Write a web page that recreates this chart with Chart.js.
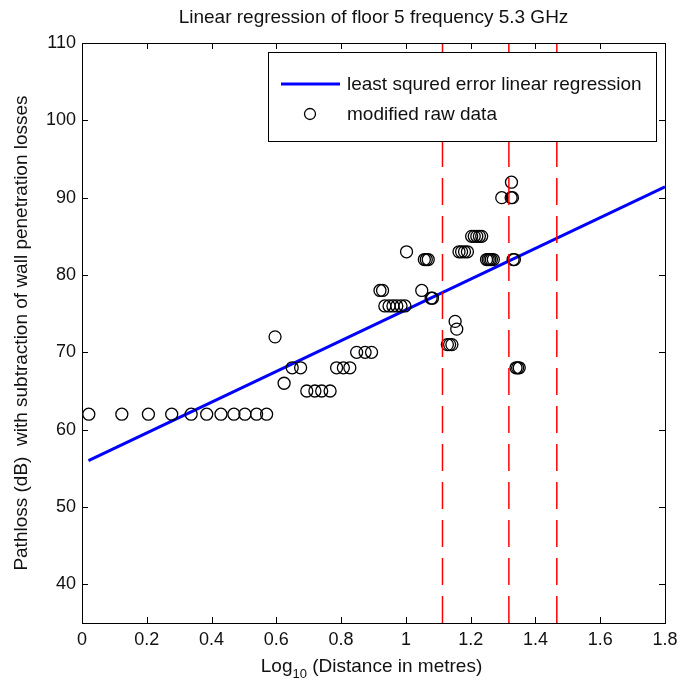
<!DOCTYPE html>
<html>
<head>
<meta charset="utf-8">
<title>Floor 5 pathloss, 5.3 GHz</title>
<script src="https://cdn.jsdelivr.net/npm/chart.js@4.4.0/dist/chart.umd.min.js"></script>
<style>
    html, body { margin: 0; padding: 0; background: #fff; }
    canvas { display: block; }
</style>
</head>
<body>
<canvas id="pathlossChart" width="681" height="685"></canvas>
<script>
// log10 of distance (m) and pathloss (dB) after removing wall penetration losses
var rawDist = [
    0.021, 0.123, 0.205, 0.277, 0.337, 0.385, 0.429, 0.469, 0.503, 0.539, 0.570,
    0.596, 0.624, 0.649, 0.675,
    0.694, 0.719, 0.740, 0.766,
    0.786, 0.807, 0.827,
    0.848, 0.874, 0.894,
    0.920, 0.928,
    0.935, 0.948, 0.960, 0.972, 0.985, 0.997,
    1.002, 1.049,
    1.057, 1.063, 1.069,
    1.078, 1.082,
    1.128, 1.135, 1.142,
    1.152, 1.157,
    1.164, 1.172, 1.181, 1.190,
    1.203, 1.211, 1.219, 1.227, 1.234,
    1.249, 1.254, 1.259, 1.264, 1.270,
    1.296, 1.325, 1.329, 1.326,
    1.331, 1.335,
    1.340, 1.345, 1.350
];
var rawLoss = [
    62, 62, 62, 62, 62, 62, 62, 62, 62, 62, 62,
    72, 66, 68, 68,
    65, 65, 65, 65,
    68, 68, 68,
    70, 70, 70,
    78, 78,
    76, 76, 76, 76, 76, 76,
    83, 78,
    82, 82, 82,
    77, 77,
    71, 71, 71,
    74, 73,
    83, 83, 83, 83,
    85, 85, 85, 85, 85,
    82, 82, 82, 82, 82,
    90, 90, 90, 92,
    82, 82,
    68, 68, 68
];

// least squares fit, end points
var fitDist = [0.02, 1.8];
var fitLoss = [56.0, 91.4];

// section boundaries along the corridor
var wallDist = [1.113, 1.318, 1.466];

var xTicks = [0, 0.2, 0.4, 0.6, 0.8, 1, 1.2, 1.4, 1.6, 1.8];
var yTicks = [40, 50, 60, 70, 80, 90, 100, 110];

var FONT = '"Liberation Sans", Arial, Helvetica, sans-serif';
var INK = '#111';

function pairs(xs, ys) {
    var out = [];
    for (var i = 0; i < xs.length; i++) {
        out.push({x: xs[i], y: ys[i]});
    }
    return out;
}

var datasets = [];

wallDist.forEach(function(d) {
    datasets.push({
        label: 'wall',
        data: [{x: d, y: 35}, {x: d, y: 110}],
        showLine: true,
        borderColor: '#ff0000',
        borderWidth: 1.5,
        borderDash: [27, 11],
        pointRadius: 0,
        order: 1
    });
});

datasets.push({
    label: 'least squred error linear regression',
    data: pairs(fitDist, fitLoss),
    showLine: true,
    borderColor: '#0000ff',
    borderWidth: 3,
    pointRadius: 0,
    order: 3
});

datasets.push({
    label: 'modified raw data',
    data: pairs(rawDist, rawLoss),
    showLine: false,
    pointStyle: 'circle',
    pointRadius: 6,
    pointBorderWidth: 1.3,
    pointBorderColor: '#000',
    pointBackgroundColor: 'rgba(0,0,0,0)',
    order: 2
});

// MATLAB style box, inward ticks, legend and the subscripted x label
var axesBox = {
    id: 'axesBox',
    afterDraw: function(chart) {
        var ctx = chart.ctx;
        var a = chart.chartArea;
        var xs = chart.scales.x, ys = chart.scales.y;
        var tick = 6;

        ctx.save();
        ctx.strokeStyle = '#000';
        ctx.lineWidth = 1;
        ctx.beginPath();
        xTicks.forEach(function(v) {
            var px = Math.round(xs.getPixelForValue(v)) + 0.5;
            ctx.moveTo(px, a.bottom); ctx.lineTo(px, a.bottom - tick);
            ctx.moveTo(px, a.top); ctx.lineTo(px, a.top + tick);
        });
        yTicks.forEach(function(v) {
            var py = Math.round(ys.getPixelForValue(v)) + 0.5;
            ctx.moveTo(a.left, py); ctx.lineTo(a.left + tick, py);
            ctx.moveTo(a.right, py); ctx.lineTo(a.right - tick, py);
        });
        ctx.stroke();
        ctx.strokeRect(Math.round(a.left) + 0.5, Math.round(a.top) + 0.5,
            Math.round(a.right - a.left), Math.round(a.bottom - a.top));

        // legend
        var fit = chart.data.datasets[3], raw = chart.data.datasets[4];
        var lx = 268.5, ly = 52.5, lw = 388, lh = 89;
        ctx.fillStyle = '#fff';
        ctx.fillRect(lx, ly, lw, lh);
        ctx.strokeStyle = '#000';
        ctx.strokeRect(lx, ly, lw, lh);

        ctx.strokeStyle = fit.borderColor;
        ctx.lineWidth = fit.borderWidth;
        ctx.beginPath();
        ctx.moveTo(281, 84); ctx.lineTo(340, 84);
        ctx.stroke();

        ctx.strokeStyle = '#000';
        ctx.lineWidth = raw.pointBorderWidth;
        ctx.beginPath();
        ctx.arc(310, 114, 5.5, 0, Math.PI * 2);
        ctx.stroke();

        ctx.fillStyle = INK;
        ctx.font = '19px ' + FONT;
        ctx.textBaseline = 'middle';
        ctx.textAlign = 'left';
        ctx.fillText(fit.label, 347, 85);
        ctx.fillText(raw.label, 347, 115);

        // x axis label with subscript
        var main = '19px ' + FONT, sub = '13px ' + FONT;
        var p1 = 'Log', p2 = '10', p3 = ' (Distance in metres)';
        ctx.font = main;
        var w1 = ctx.measureText(p1).width, w3 = ctx.measureText(p3).width;
        ctx.font = sub;
        var w2 = ctx.measureText(p2).width;
        var cx = (a.left + a.right) / 2 - 2;
        var x0 = cx - (w1 + w2 + w3) / 2;
        var base = 672;
        ctx.textBaseline = 'alphabetic';
        ctx.font = main;
        ctx.fillText(p1, x0, base);
        ctx.font = sub;
        ctx.fillText(p2, x0 + w1, base + 6);
        ctx.font = main;
        ctx.fillText(p3, x0 + w1 + w2, base);
        ctx.restore();
    }
};

new Chart(document.getElementById('pathlossChart'), {
    type: 'scatter',
    data: {datasets: datasets},
    options: {
        responsive: false,
        animation: false,
        devicePixelRatio: 1,
        layout: {padding: {left: 0, right: 16, top: 0, bottom: 0}},
        plugins: {
            legend: {display: false},
            tooltip: {enabled: false},
            title: {
                display: true,
                fullSize: false,
                text: 'Linear regression of floor 5 frequency 5.3 GHz',
                color: INK,
                font: {family: FONT, size: 19, weight: 'normal'},
                padding: {top: 6, bottom: 14.2}
            }
        },
        scales: {
            x: {
                type: 'linear',
                min: 0,
                max: 1.8,
                afterBuildTicks: function(scale) {
                    scale.ticks = xTicks.map(function(v) { return {value: v}; });
                },
                afterFit: function(scale) {
                    scale.height = 62;
                    scale.paddingLeft = 0;
                    scale.paddingRight = 0;
                },
                grid: {display: false, drawTicks: false},
                border: {display: false},
                ticks: {
                    color: INK,
                    padding: 6,
                    maxRotation: 0,
                    autoSkip: false,
                    font: {family: FONT, size: 18},
                    callback: function(v) { return String(+Number(v).toFixed(1)); }
                }
            },
            y: {
                type: 'linear',
                min: 35,
                max: 110,
                afterBuildTicks: function(scale) {
                    scale.ticks = yTicks.map(function(v) { return {value: v}; });
                },
                afterFit: function(scale) { scale.width = 82; },
                grid: {display: false, drawTicks: false},
                border: {display: false},
                title: {
                    display: true,
                    text: 'Pathloss (dB)  with subtraction of wall penetration losses',
                    color: INK,
                    font: {family: FONT, size: 19},
                    padding: {top: 10, bottom: 0}
                },
                ticks: {
                    color: INK,
                    padding: 6,
                    autoSkip: false,
                    font: {family: FONT, size: 18}
                }
            }
        }
    },
    plugins: [axesBox]
});
</script>
</body>
</html>
